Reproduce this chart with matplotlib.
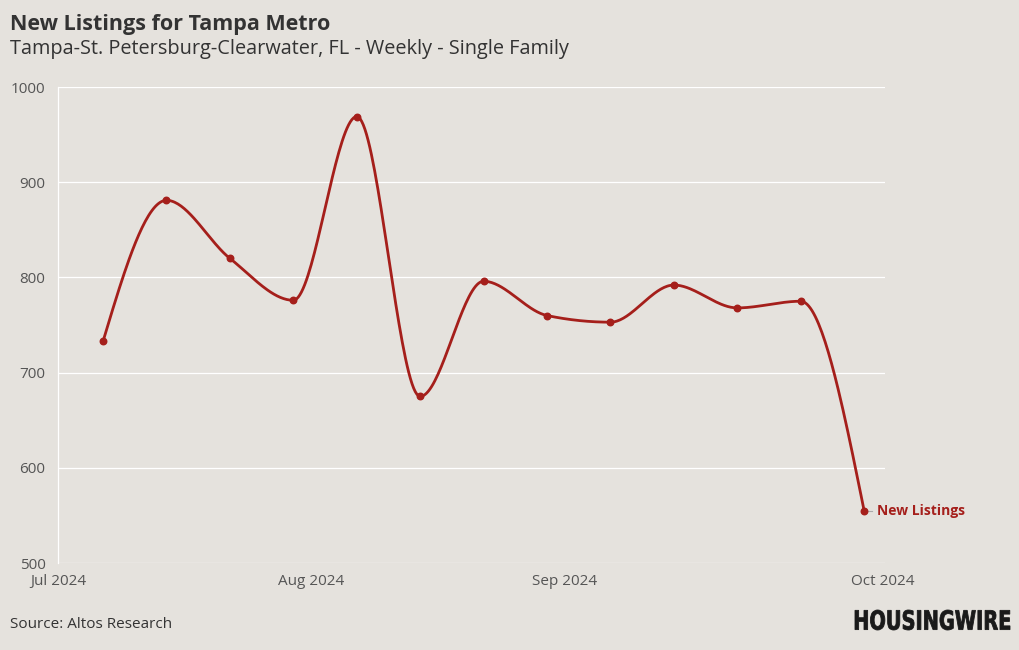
import numpy as np
import matplotlib
matplotlib.use("Agg")
import matplotlib.pyplot as plt
from matplotlib.textpath import TextPath
from matplotlib.patches import PathPatch
from matplotlib.font_manager import FontProperties
from matplotlib.transforms import Affine2D, IdentityTransform

# Weekly new listings (single family), Tampa metro
weeks = ["2024-07-06", "2024-07-13", "2024-07-20", "2024-07-27", "2024-08-03",
         "2024-08-10", "2024-08-17", "2024-08-24", "2024-08-31", "2024-09-07",
         "2024-09-14", "2024-09-21", "2024-09-28"]
new_listings = [733, 881, 820, 776, 969, 675, 796, 760, 753, 792, 768, 775, 555]

month_labels = ["Jul 2024", "Aug 2024", "Sep 2024", "Oct 2024"]
month_pos = [-0.71, 3.28, 7.27, 12.29]   # in week-index units
y_ticks = [500, 600, 700, 800, 900, 1000]

BG = "#e5e2dd"
RED = "#a51f1b"
TXT = "#333333"


def monotone_x(x, y, n=40):
    # monotone cubic (same idea as d3.curveMonotoneX)
    x = np.asarray(x, float)
    y = np.asarray(y, float)
    h = np.diff(x)
    s = np.diff(y) / h
    m = np.zeros_like(y)
    for i in range(1, len(y) - 1):
        p = (s[i - 1] * h[i] + s[i] * h[i - 1]) / (h[i - 1] + h[i])
        m[i] = (np.sign(s[i - 1]) + np.sign(s[i])) * min(abs(s[i - 1]), abs(s[i]), 0.5 * abs(p))
    m[0] = (3 * s[0] - m[1]) / 2
    m[-1] = (3 * s[-1] - m[-2]) / 2
    xs, ys = [], []
    for i in range(len(x) - 1):
        t = np.linspace(0, 1, n)
        h00 = 2 * t**3 - 3 * t**2 + 1
        h10 = t**3 - 2 * t**2 + t
        h01 = -2 * t**3 + 3 * t**2
        h11 = t**3 - t**2
        xs.append(x[i] + t * h[i])
        ys.append(h00 * y[i] + h10 * h[i] * m[i] + h01 * y[i + 1] + h11 * h[i] * m[i + 1])
    return np.concatenate(xs), np.concatenate(ys)


plt.rcParams['font.family'] = ['Open Sans', 'DejaVu Sans']

fig = plt.figure(figsize=(10.2, 6.5), dpi=100, facecolor=BG)
ax = fig.add_axes([0.0569, 0.1338, 0.8108, 0.7323], facecolor=BG)

idx = np.arange(len(weeks))
cx, cy = monotone_x(idx, new_listings)
ax.plot(cx, cy, color=RED, lw=2, solid_capstyle="round", zorder=3)
ax.scatter(idx, new_listings, s=22, color=RED, zorder=4)

ax.set_ylim(500, 1000)
ax.set_xlim(-0.71, 12.33)
ax.set_yticks(y_ticks)
ax.set_xticks(month_pos)
ax.set_xticklabels(month_labels)
ax.grid(axis="y", color="white", lw=0.9)
ax.set_axisbelow(True)
for side in ["top", "right", "bottom"]:
    ax.spines[side].set_visible(False)
ax.spines["left"].set_color("white")
ax.spines["left"].set_linewidth(0.9)
ax.tick_params(length=0, labelsize=11, labelcolor="#555555")
ax.tick_params(axis="y", pad=9)
ax.tick_params(axis="x", pad=8)

# end label
last = len(weeks) - 1
ax.annotate("New Listings", xy=(last, new_listings[-1]), xytext=(9.5, 0),
            textcoords="offset points", va="center", ha="left",
            fontsize=10, fontweight="bold", color=RED, annotation_clip=False)
ax.plot([last + 0.05, last + 0.12], [new_listings[-1], new_listings[-1]],
        color="#aaaaaa", lw=0.8, clip_on=False)

fig.text(0.01, 0.962, "New Listings for Tampa Metro", fontsize=15.5,
         fontweight="bold", color=TXT, va="center")
fig.text(0.01, 0.924, "Tampa-St. Petersburg-Clearwater, FL - Weekly - Single Family",
         fontsize=14.3, color=TXT, va="center")
fig.text(0.01, 0.04, "Source: Altos Research", fontsize=11, color=TXT, va="center")

# condensed logo wordmark
logo = TextPath((0, 0), "HOUSINGWIRE", size=20,
                prop=FontProperties(family="DejaVu Sans", weight="bold"))
ext = logo.get_extents()
sx = 155 / ext.width
sy = 20 / ext.height
tr = Affine2D().translate(-ext.x0, -ext.y0).scale(sx, sy).translate(855, 650 - 630)
fig.patches.append(PathPatch(logo, transform=tr + IdentityTransform(),
                             facecolor="#1a1a1a", edgecolor="#1a1a1a", lw=0.6))

fig.savefig("out.png", dpi=100, facecolor=BG)
